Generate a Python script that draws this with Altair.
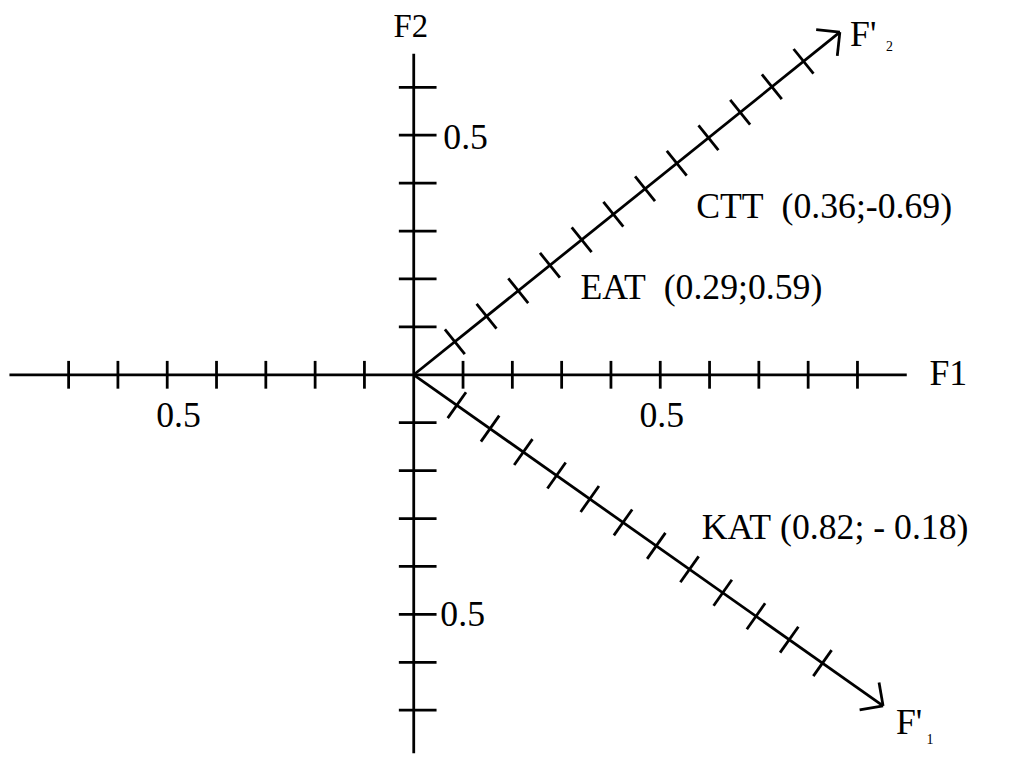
import math
import altair as alt
import pandas as pd

# ---------------- values ----------------
f1_ticks = [-0.7, -0.6, -0.5, -0.4, -0.3, -0.2, -0.1, 0.1, 0.2, 0.3, 0.4, 0.5, 0.6, 0.7, 0.8, 0.9]
f2_ticks = [-0.7, -0.6, -0.5, -0.4, -0.3, -0.2, -0.1, 0.1, 0.2, 0.3, 0.4, 0.5, 0.6]
f1_range = [-0.82, 1.0]
f2_range = [-0.79, 0.67]

rot_names = ["F'1", "F'2"]
rot_angles = [-35.2, 38.8]          # direction on the page, degrees
rot_lengths = [1.165, 1.109]        # length of the rotated axes (F1 units)
rot_tick_index = [1, 2, 3, 4, 5, 6, 7, 8, 9, 10, 11, 12]
rot_tick_first = 0.107
rot_tick_step = 0.0825

# axis captions and scale labels: (text, x, y)
captions_left = [
    ("F1", 1.046, -0.021),
    ("0.5", 0.060, 0.471),
    ("0.5", 0.054, -0.524),
    ("CTT\u00a0\u00a0(0.36;-0.69)", 0.573, 0.327),
    ("EAT\u00a0\u00a0(0.29;0.59)", 0.338, 0.159),
    ("KAT\u00a0(0.82;\u00a0-\u00a00.18)", 0.584, -0.342),
    ("F'", 0.885, 0.687),
    ("F'", 0.978, -0.750),
]
captions_center = [
    ("0.5", -0.477, -0.110),
    ("0.5", 0.503, -0.110),
]
axis_top = [
    ("F2", -0.006, 0.706),
]
subscripts = [
    ("2", 0.958, 0.676),
    ("1", 1.040, -0.771),
]

# ---------------- layout ----------------
W, H = 1002, 755
SX, SY = 497.0, 483.0          # pixels per unit
OX, OY = 409.0, 366.7          # origin inside the plot area (pixels)
xdom = [-OX / SX, (W - OX) / SX]
ydom = [-(H - OY) / SY, OY / SY]

def px(dx, dy):
    """page-pixel offset (y up) -> data offset"""
    return dx / SX, dy / SY

segs = []
def seg(x, y, x2, y2):
    segs.append({"x": x, "y": y, "x2": x2, "y2": y2})

# main axes
seg(f1_range[0], 0, f1_range[1], 0)
seg(0, f2_range[0], 0, f2_range[1])
hx, hy = px(0, 14)
for t in f1_ticks:
    seg(t, -hy, t, hy)
lx, _ = px(-15, 0)
rx, _ = px(23, 0)
for t in f2_ticks:
    seg(lx, t, rx, t)

# rotated axes
for ang, length in zip(rot_angles, rot_lengths):
    a = math.radians(ang)
    ux, uy = math.cos(a), math.sin(a)           # unit direction on the page
    L = length * SX
    tipx, tipy = px(ux * L, uy * L)
    seg(0, 0, tipx, tipy)
    for k in rot_tick_index:
        d = (rot_tick_first + rot_tick_step * (k - 1)) * SX
        cx, cy = px(ux * d, uy * d)
        px_x, px_y = px(-uy * 16, ux * 16)
        seg(cx - px_x, cy - px_y, cx + px_x, cy + px_y)
    # open arrow head
    for b in (45, -45):
        ba = a + math.pi + math.radians(b)
        bx, by = px(math.cos(ba) * 24, math.sin(ba) * 24)
        seg(tipx, tipy, tipx + bx, tipy + by)

seg_df = pd.DataFrame(segs)

xs = alt.Scale(domain=xdom, nice=False, zero=False)
ys = alt.Scale(domain=ydom, nice=False, zero=False)

lines = alt.Chart(seg_df).mark_rule(color="black", strokeWidth=2.8).encode(
    x=alt.X("x:Q", scale=xs, axis=None),
    y=alt.Y("y:Q", scale=ys, axis=None),
    x2="x2:Q",
    y2="y2:Q",
)

def text_layer(rows, align, size):
    df = pd.DataFrame(rows, columns=["text", "x", "y"])
    return alt.Chart(df).mark_text(
        align=align, baseline="alphabetic", font="Liberation Serif",
        fontSize=size, color="black"
    ).encode(
        x=alt.X("x:Q", scale=xs, axis=None),
        y=alt.Y("y:Q", scale=ys, axis=None),
        text="text:N",
    )

chart = alt.layer(
    lines,
    text_layer(captions_left, "left", 36),
    text_layer(captions_center, "center", 36),
    text_layer(axis_top, "center", 33),
    text_layer(subscripts, "left", 14),
).properties(
    width=W, height=H,
    autosize=alt.AutoSizeParams(type="none"),
    padding=0,
    background="white",
).configure_view(stroke=None)

chart.save("out.html", embed_options={"renderer": "svg", "actions": False})
